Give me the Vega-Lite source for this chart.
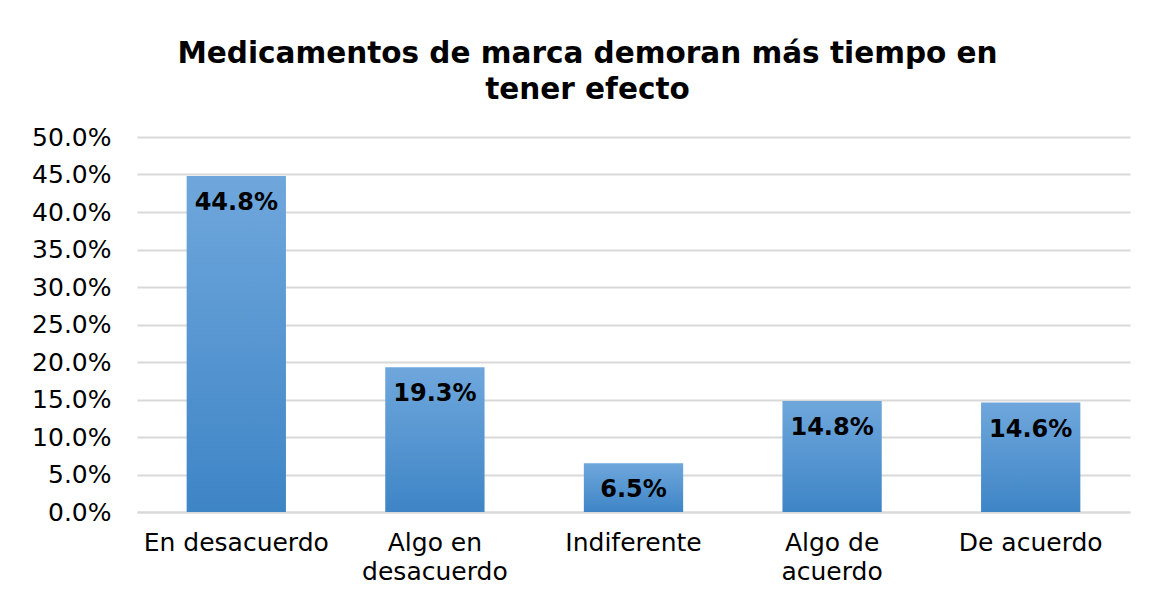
{
  "$schema": "https://vega.github.io/schema/vega-lite/v6.json",
  "autosize": {"type": "none"},
  "width": 993,
  "height": 375,
  "padding": {"left": 137, "top": 137, "right": 23, "bottom": 80},
  "background": "white",
  "title": {
    "text": ["Medicamentos de marca demoran más tiempo en", "tener efecto"],
    "font": "DejaVu Sans",
    "fontSize": 29.5,
    "fontWeight": "bold",
    "color": "#000000",
    "lineHeight": 36,
    "anchor": "middle",
    "dx": -46,
    "offset": 20
  },
  "config": {
    "view": {"stroke": null},
    "font": "DejaVu Sans"
  },
  "data": {
    "values": [
      {"categoria": "En desacuerdo", "valor": 0.448},
      {"categoria": "Algo en|desacuerdo", "valor": 0.193},
      {"categoria": "Indiferente", "valor": 0.065},
      {"categoria": "Algo de|acuerdo", "valor": 0.148},
      {"categoria": "De acuerdo", "valor": 0.146}
    ]
  },
  "encoding": {
    "x": {
      "field": "categoria",
      "type": "nominal",
      "sort": null,
      "scale": {"paddingInner": 0.5, "paddingOuter": 0.25},
      "axis": {
        "title": null,
        "labelAngle": 0,
        "labelExpr": "split(datum.label, '|')",
        "labelFont": "DejaVu Sans",
        "labelFontSize": 25,
        "labelLimit": 400,
        "labelColor": "#000000",
        "labelPadding": 18,
        "labelLineHeight": 29,
        "ticks": false,
        "domain": true,
        "domainColor": "#D9D9D9",
        "domainWidth": 2
      }
    },
    "y": {
      "field": "valor",
      "type": "quantitative",
      "scale": {"domain": [0, 0.5]},
      "axis": {
        "title": null,
        "format": ".1%",
        "values": [0, 0.05, 0.1, 0.15, 0.2, 0.25, 0.3, 0.35, 0.4, 0.45, 0.5],
        "labelFont": "DejaVu Sans",
        "labelFontSize": 25,
        "labelColor": "#000000",
        "labelPadding": 26,
        "ticks": false,
        "domain": false,
        "grid": true,
        "gridColor": "#D9D9D9",
        "gridWidth": 2
      }
    }
  },
  "layer": [
    {
      "mark": {
        "type": "bar",
        "color": {
          "gradient": "linear",
          "x1": 0, "y1": 0, "x2": 0, "y2": 1,
          "stops": [
            {"offset": 0, "color": "#6FA7DC"},
            {"offset": 1, "color": "#3E85C6"}
          ]
        }
      }
    },
    {
      "mark": {
        "type": "text",
        "baseline": "middle",
        "dy": 27,
        "font": "DejaVu Sans",
        "fontSize": 24,
        "fontWeight": "bold",
        "color": "#000000"
      },
      "encoding": {
        "text": {"field": "valor", "type": "quantitative", "format": ".1%"}
      }
    }
  ]
}
